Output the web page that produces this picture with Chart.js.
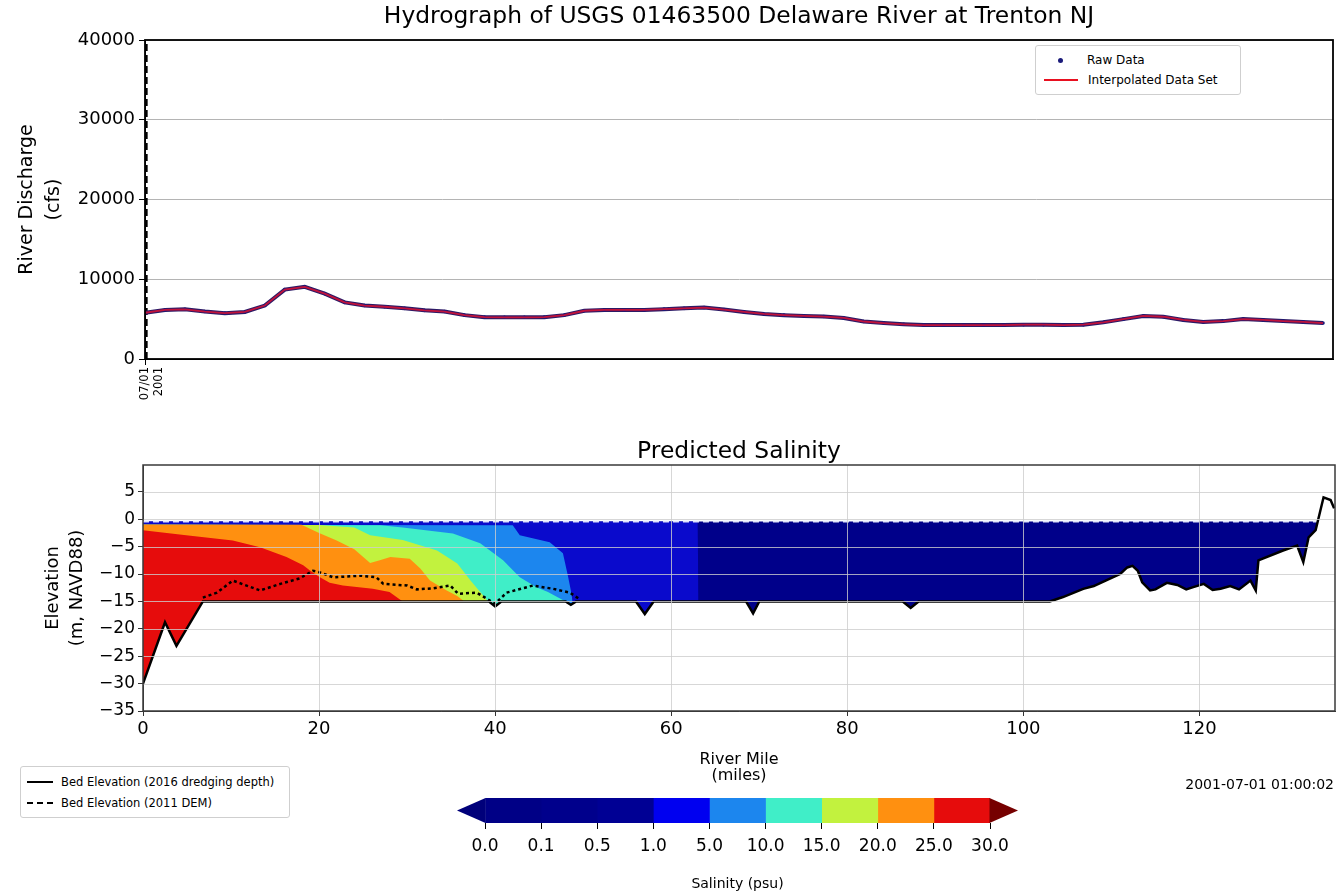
<!DOCTYPE html>
<html lang="en">
<head>
<meta charset="UTF-8">
<title>Delaware River at Trenton - Hydrograph and Predicted Salinity</title>
<script src="https://cdn.jsdelivr.net/npm/chart.js"></script>
<style>
  body { margin: 0; background: #fff; font-family: 'DejaVu Sans', sans-serif; color: #000; }
  #page { position: relative; width: 1337px; height: 895px; overflow: hidden; }
  canvas { position: absolute; }
  #flowChart { left: 0; top: 0; }
  #salinityChart { left: 0; top: 430px; }
  #colorbar { left: 440px; top: 790px; }
  .legend {
    position: absolute;
    background: #fff;
    border: 1px solid #cfcfcf;
    border-radius: 3px;
    box-sizing: border-box;
    padding: 4px 8px;
  }
  .legend .row { display: flex; align-items: center; white-space: nowrap; }
  #flowLegend { left: 1035px; top: 45px; width: 206px; height: 50px; font-size: 12px; }
  #flowLegend .row { height: 20px; }
  #bedLegend { left: 20px; top: 766px; width: 270px; height: 52px; font-size: 11.5px; padding: 4px 6px; }
  #bedLegend .row { height: 21px; }
  .sample { display: inline-block; width: 34px; margin-right: 10px; }
  .dot { display: inline-block; width: 5px; height: 5px; border-radius: 50%; background: #1a1a7a; margin: 0 24px 0 14px; }
  .red { border-top: 2px solid #e81020; }
  .solid { border-top: 2px solid #000; width: 26px; margin-right: 8px; }
  .dotted { border-top: 2px dashed #000; width: 26px; margin-right: 8px; }
  #stamp { position: absolute; right: 3px; top: 776px; font-size: 14px; }
</style>
</head>
<body>
<div id="page">
  <canvas id="flowChart" width="1337" height="440"></canvas>
  <canvas id="salinityChart" width="1337" height="360"></canvas>
  <canvas id="colorbar" width="600" height="105"></canvas>

  <div class="legend" id="flowLegend">
    <div class="row"><span class="dot"></span>Raw Data</div>
    <div class="row"><span class="sample red"></span>Interpolated Data Set</div>
  </div>
  <div class="legend" id="bedLegend">
    <div class="row"><span class="sample solid"></span>Bed Elevation (2016 dredging depth)</div>
    <div class="row"><span class="sample dotted"></span>Bed Elevation (2011 DEM)</div>
  </div>
  <div id="stamp">2001-07-01 01:00:02</div>
</div>

<script>
// ---- hydrograph (one reading every 12 h from 07/01/2001 00:00)
const flowStepHours = 12;
const currentHour = 1;
const flowTickLabel = ['07/01', '2001'];
const rawDischarge = [5800, 6150, 6230, 5950, 5750, 5900, 6700, 8700, 9050, 8200,
  7100, 6700, 6550, 6350, 6100, 5950, 5500, 5250, 5230, 5230,
  5250, 5500, 6050, 6150, 6150, 6150, 6250, 6350, 6450, 6200,
  5900, 5650, 5500, 5400, 5320, 5150, 4700, 4500, 4350, 4250,
  4250, 4250, 4250, 4250, 4300, 4300, 4250, 4300, 4600, 5000,
  5400, 5300, 4900, 4650, 4750, 5000, 4900, 4750, 4650, 4500];
const interpolatedDischarge = rawDischarge.slice();

// ---- river profile (river mile / elevation m NAVD88)
const bedMile = [0, 2.5, 3.8, 6.8, 39.3, 40, 40.7, 48, 48.6, 49.2, 56, 57, 58, 68.5, 69.3, 70,
  86.3, 87.2, 88.1, 103, 104.5, 106.8, 108, 109.9, 111, 111.8, 112.4, 113, 113.5, 114.4, 115,
  116.3, 117.5, 118.5, 119.3, 120.5, 121.5, 122.4, 123.5, 124.5, 125.8, 126.4, 126.7, 129.5,
  131.1, 131.8, 132.4, 133.2, 134.1, 134.9, 135.3];
const bedElev = [-30, -18.8, -23.1, -15, -15, -15.9, -15, -15, -15.6, -15, -15, -17.3, -15, -15, -17.2, -15,
  -15, -16.2, -15, -15, -14.2, -12.7, -12.2, -10.8, -10, -8.8, -8.5, -9.4, -11.5, -13, -12.8,
  -11.6, -12, -12.8, -12.4, -11.8, -12.9, -12.7, -12.2, -12.8, -11.2, -13, -7.5, -5.7,
  -4.8, -7.8, -3.3, -2, 4, 3.5, 2];
const demMile = [6.8, 8.4, 10.2, 13.3, 15.6, 17.8, 19.3, 20.1, 21.6, 24.7, 26.5, 27.3, 30, 31.1,
  33, 34.9, 35.8, 37.9, 40, 41.3, 44.3, 46.6, 48.5, 49.5];
const demElev = [-14.3, -13.4, -11.2, -13, -11.8, -10.8, -9.4, -9.7, -10.6, -10.3, -10.6, -11.8, -12.1, -12.8,
  -12.6, -12.1, -13.6, -13.4, -15.4, -13.4, -12.1, -12.7, -13.4, -14.5];
const surfaceMile = [0, 133.4];
const surfaceElev = [-0.4, -0.4];

// upper edge of each salinity zone (the zone reaches down to the bed)
const sal1Mile = [0, 63, 63.1];
const sal1Elev = [-0.4, -0.4, -15];
const sal5Mile = [0, 42, 42.8, 46.2, 47.7, 48.3, 48.6, 48.8];
const sal5Elev = [-1.0, -1.1, -2.9, -4.2, -6.2, -10.6, -13, -15];
const sal10Mile = [0, 27, 29.5, 35.2, 38.3, 40.9, 42.8, 44.7, 46, 48];
const sal10Elev = [-1.0, -1.1, -1.5, -2.6, -4.4, -7.5, -10.6, -12.4, -13.3, -15];
const sal15Mile = [0, 20, 24, 25.8, 29.5, 33.4, 35.7, 37.2, 38.3, 39.2];
const sal15Elev = [-1.0, -1.05, -1.5, -2.9, -3.8, -5.7, -8.1, -11.2, -13.3, -15];
const sal20Mile = [0, 18, 20, 22, 24, 25.8, 26.9, 28.1, 30.3, 31.5, 32.6, 34.5, 35.7, 36.5];
const sal20Elev = [-0.95, -1.0, -2.5, -3.9, -5.5, -8.0, -7.5, -6.9, -7.2, -9, -11.2, -13, -14, -15];
const sal25Mile = [0, 4.9, 10.2, 13.3, 16.3, 18.2, 19, 20.1, 21.2, 22.7, 26.1, 28, 29.5];
const sal25Elev = [-2, -2.9, -3.9, -5.1, -6.9, -8.4, -9.4, -10.6, -11.6, -12.1, -12.7, -13.3, -15];

// ---- colour bar
const salinityLevels = ['0.0', '0.1', '0.5', '1.0', '5.0', '10.0', '15.0', '20.0', '25.0', '30.0'];
const salinityColors = ['#000086', '#00008c', '#000094', '#0000f0', '#1c86ee', '#40eec8', '#c2f23e', '#ff9010', '#e60c0c'];
const underColor = '#00007a';
const overColor = '#760000';

Chart.defaults.font.family = "'DejaVu Sans', sans-serif";
Chart.defaults.color = '#000';

const pts = (xs, ys) => xs.map((x, i) => ({ x: x, y: ys[i] }));
const minus = v => (v < 0 ? '\u2212' + Math.abs(v) : String(v));

const framePlugin = {
  id: 'frame',
  afterDraw(chart, args, opts) {
    const a = chart.chartArea;
    const ctx = chart.ctx;
    ctx.save();
    ctx.strokeStyle = opts.color || '#000';
    ctx.lineWidth = opts.width || 1.5;
    ctx.strokeRect(a.left, a.top, a.right - a.left, a.bottom - a.top);
    ctx.restore();
  }
};

// title centred over the plot area, like matplotlib does
const plotTitlePlugin = {
  id: 'plotTitle',
  afterDraw(chart, args, opts) {
    const a = chart.chartArea;
    const ctx = chart.ctx;
    ctx.save();
    ctx.font = opts.size + "px 'DejaVu Sans', sans-serif";
    ctx.fillStyle = '#000';
    ctx.textAlign = 'center';
    ctx.textBaseline = 'middle';
    ctx.fillText(opts.text, (a.left + a.right) / 2, opts.y);
    ctx.restore();
  }
};

// grid lines laid over the filled salinity zones
const gridOverlayPlugin = {
  id: 'gridOverlay',
  afterDatasetsDraw(chart, args, opts) {
    const a = chart.chartArea;
    const ctx = chart.ctx;
    const xs = chart.scales.x;
    const ys = chart.scales.y;
    ctx.save();
    ctx.strokeStyle = opts.color;
    ctx.lineWidth = 1;
    ctx.beginPath();
    xs.ticks.forEach(t => {
      const px = Math.round(xs.getPixelForValue(t.value)) + 0.5;
      if (px > a.left + 1 && px < a.right - 1) { ctx.moveTo(px, a.top); ctx.lineTo(px, a.bottom); }
    });
    ys.ticks.forEach(t => {
      const py = Math.round(ys.getPixelForValue(t.value)) + 0.5;
      if (py > a.top + 1 && py < a.bottom - 1) { ctx.moveTo(a.left, py); ctx.lineTo(a.right, py); }
    });
    ctx.stroke();
    ctx.restore();
  }
};

// ---------------- top: hydrograph
new Chart(document.getElementById('flowChart'), {
  type: 'line',
  data: {
    datasets: [
      {
        label: 'Interpolated Data Set',
        data: interpolatedDischarge.map((v, i) => ({ x: i * flowStepHours, y: v })),
        borderColor: 'rgba(232,16,48,0.8)',
        borderWidth: 1.8,
        pointRadius: 0,
        order: 0
      },
      {
        label: 'Raw Data',
        data: rawDischarge.map((v, i) => ({ x: i * flowStepHours, y: v })),
        borderColor: '#2c1a66',
        borderWidth: 4,
        pointRadius: 1.8,
        pointBackgroundColor: '#1a1a7a',
        pointBorderWidth: 0,
        order: 1
      },
      {
        label: 'now',
        data: [{ x: currentHour, y: 0 }, { x: currentHour, y: 40000 }],
        borderColor: '#000',
        borderWidth: 2,
        borderDash: [7, 4],
        pointRadius: 0,
        order: 2
      }
    ]
  },
  options: {
    responsive: false,
    animation: false,
    layout: { padding: { left: 0, right: 2, top: 40, bottom: 0 } },
    plugins: {
      legend: { display: false },
      tooltip: { enabled: false },
      title: { display: false },
      plotTitle: { text: 'Hydrograph of USGS 01463500 Delaware River at Trenton NJ', size: 23.4, y: 17 },
      frame: { color: '#000', width: 1.8 }
    },
    scales: {
      x: {
        type: 'linear',
        min: 0,
        max: 59.5 * flowStepHours,
        afterFit: s => { s.height = 81; },
        afterBuildTicks: s => { s.ticks = [{ value: 0 }]; },
        ticks: {
          minRotation: 90,
          maxRotation: 90,
          font: { size: 11.5 },
          padding: 2,
          callback: v => (v === 0 ? flowTickLabel : '')
        },
        grid: { drawOnChartArea: false, tickLength: 6, tickColor: '#000' },
        border: { color: '#000' }
      },
      y: {
        min: 0,
        max: 40000,
        afterFit: s => { s.width = 145; },
        ticks: { stepSize: 10000, font: { size: 18 }, padding: 4, callback: v => String(v) },
        grid: { color: '#b4b4b4', tickLength: 6, tickColor: '#000' },
        border: { color: '#000' },
        title: {
          display: true,
          text: ['River Discharge', '(cfs)'],
          font: { size: 19, lineHeight: 1.4 },
          padding: { top: 14, bottom: 0 }
        }
      }
    }
  },
  plugins: [framePlugin, plotTitlePlugin]
});

// ---------------- bottom: predicted salinity along the river
const BED = 0;
const band = (label, xs, ys, color, order) => ({
  label: label,
  data: pts(xs, ys),
  borderWidth: 0,
  pointRadius: 0,
  backgroundColor: color,
  fill: { target: BED, above: color, below: color },
  order: order
});

new Chart(document.getElementById('salinityChart'), {
  type: 'line',
  data: {
    datasets: [
      {
        label: 'Bed Elevation (2016 dredging depth)',
        data: pts(bedMile, bedElev),
        borderColor: '#000',
        borderWidth: 2.5,
        pointRadius: 0,
        fill: false,
        order: 0
      },
      {
        label: 'Bed Elevation (2011 DEM)',
        data: pts(demMile, demElev),
        borderColor: '#000',
        borderWidth: 2.5,
        borderDash: [3, 3],
        pointRadius: 0,
        fill: false,
        order: 1
      },
      {
        label: 'water surface',
        data: pts(surfaceMile, surfaceElev),
        borderColor: 'rgba(232,236,255,0.95)',
        borderWidth: 2,
        borderDash: [6, 4],
        pointRadius: 0,
        fill: false,
        order: 2
      },
      band('25-30', sal25Mile, sal25Elev, salinityColors[8], 3),
      band('20-25', sal20Mile, sal20Elev, salinityColors[7], 4),
      band('15-20', sal15Mile, sal15Elev, salinityColors[6], 5),
      band('10-15', sal10Mile, sal10Elev, salinityColors[5], 6),
      band('5-10', sal5Mile, sal5Elev, salinityColors[4], 7),
      band('1-5', sal1Mile, sal1Elev, '#0a0acc', 8),
      band('0-1', surfaceMile, surfaceElev, '#00008a', 9)
    ]
  },
  options: {
    responsive: false,
    animation: false,
    layout: { padding: { left: 0, right: 2, top: 35, bottom: 0 } },
    plugins: {
      legend: { display: false },
      tooltip: { enabled: false },
      title: { display: false },
      plotTitle: { text: 'Predicted Salinity', size: 23.4, y: 22 },
      frame: { color: '#3a3a3a', width: 1.5 },
      gridOverlay: { color: 'rgba(205,205,205,0.8)' }
    },
    scales: {
      x: {
        type: 'linear',
        min: 0,
        max: 135.4,
        afterFit: s => { s.height = 79; },
        afterBuildTicks: s => { s.ticks = s.ticks.filter(t => t.value % 20 === 0 && t.value <= 120); },
        ticks: { stepSize: 20, font: { size: 18 }, padding: 3, maxRotation: 0 },
        grid: { drawOnChartArea: false, tickLength: 5, tickColor: '#333' },
        border: { color: '#3a3a3a' },
        title: {
          display: true,
          text: ['River Mile', '(miles)'],
          font: { size: 16, lineHeight: 1 },
          padding: { top: 0, bottom: 6 }
        }
      },
      y: {
        min: -35,
        max: 9.9,
        afterFit: s => { s.width = 143; },
        afterBuildTicks: s => { s.ticks = s.ticks.filter(t => t.value % 5 === 0 && t.value <= 5); },
        ticks: { stepSize: 5, font: { size: 17 }, padding: 3, callback: v => minus(v) },
        grid: { drawOnChartArea: false, tickLength: 5, tickColor: '#333' },
        border: { color: '#3a3a3a' },
        title: {
          display: true,
          text: ['Elevation', '(m, NAVD88)'],
          font: { size: 18, lineHeight: 1.3 },
          padding: { top: 42, bottom: 0 }
        }
      }
    }
  },
  plugins: [gridOverlayPlugin, framePlugin, plotTitlePlugin]
});

// ---------------- colour bar
const arrowPlugin = {
  id: 'arrows',
  afterDatasetsDraw(chart) {
    const x = chart.scales.x;
    const a = chart.chartArea;
    const ctx = chart.ctx;
    const mid = (a.top + a.bottom) / 2;
    const x0 = x.getPixelForValue(0);
    const x1 = x.getPixelForValue(salinityLevels.length - 1);
    ctx.save();
    ctx.fillStyle = underColor;
    ctx.beginPath();
    ctx.moveTo(x0 + 0.5, a.top);
    ctx.lineTo(x0 - 28, mid);
    ctx.lineTo(x0 + 0.5, a.bottom);
    ctx.closePath();
    ctx.fill();
    ctx.fillStyle = overColor;
    ctx.beginPath();
    ctx.moveTo(x1 - 0.5, a.top);
    ctx.lineTo(x1 + 28, mid);
    ctx.lineTo(x1 - 0.5, a.bottom);
    ctx.closePath();
    ctx.fill();
    ctx.restore();
  }
};

new Chart(document.getElementById('colorbar'), {
  type: 'bar',
  data: {
    labels: ['Salinity'],
    datasets: salinityColors.map((c, i) => ({
      label: salinityLevels[i] + '-' + salinityLevels[i + 1],
      data: [1],
      backgroundColor: c,
      borderWidth: 0,
      barPercentage: 1,
      categoryPercentage: 1
    }))
  },
  options: {
    indexAxis: 'y',
    responsive: false,
    animation: false,
    layout: { padding: { left: 45, right: 50, top: 8, bottom: 0 } },
    plugins: { legend: { display: false }, tooltip: { enabled: false } },
    scales: {
      x: {
        stacked: true,
        min: 0,
        max: salinityLevels.length - 1,
        afterFit: s => { s.height = 72; },
        ticks: {
          stepSize: 1,
          autoSkip: false,
          maxRotation: 0,
          font: { size: 17 },
          padding: 7,
          callback: v => salinityLevels[v]
        },
        grid: { drawOnChartArea: false, tickLength: 6, tickColor: '#000' },
        border: { display: false },
        title: {
          display: true,
          text: 'Salinity (psu)',
          font: { size: 14, lineHeight: 1 },
          padding: { top: 0, bottom: 4 }
        }
      },
      y: { stacked: true, display: false }
    }
  },
  plugins: [arrowPlugin]
});
</script>
</body>
</html>
